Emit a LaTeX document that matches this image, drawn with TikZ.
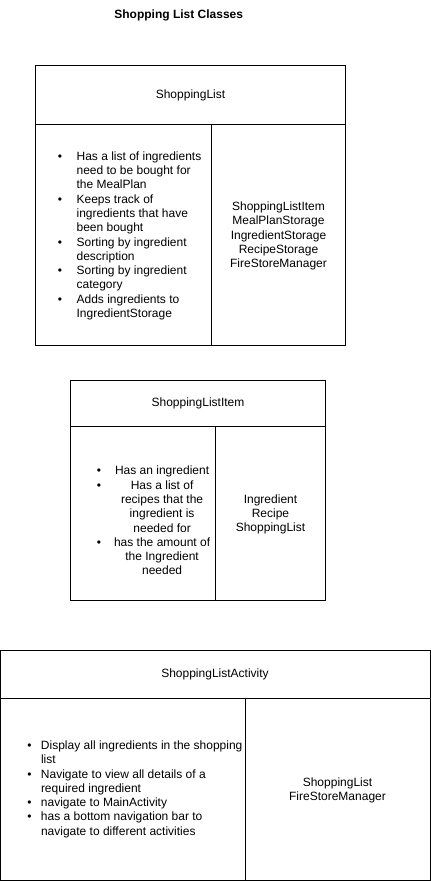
\documentclass[tikz,border=0pt]{standalone}
\usepackage{fontspec}
\setmainfont{Liberation Sans}
\usepackage{array}
\usetikzlibrary{positioning}
\newcommand{\bul}{\textbullet}

\begin{document}
\begin{tikzpicture}[x=1pt,y=1pt]
		\tikzstyle{every node}+=[inner sep=0pt,font=\fontsize{12}{14.3}\selectfont]
		\useasboundingbox (0,0) rectangle (431,-881);
		\draw (178.7,-15) node (title) {\bfseries Shopping List Classes};
		% ShoppingList
		\draw [black] (35.5,-65.5) rectangle (345.5,-345);
		\draw [black] (35.5,-124.5) -- (345.5,-124.5);
		\draw [black] (211.5,-124.5) -- (211.5,-345);
		\draw (190.5,-95) node (slhead) {ShoppingList};
		\draw (57.7,-236) node [anchor=west] (slresp) {\begin{tabular}{@{}l@{\hspace{14.5pt}}l@{}}
			\bul & Has a list of ingredients\\
			& need to be bought for\\
			& the MealPlan\\
			\bul & Keeps track of\\
			& ingredients that have\\
			& been bought\\
			\bul & Sorting by ingredient\\
			& description\\
			\bul & Sorting by ingredient\\
			& category\\
			\bul & Adds ingredients to\\
			& IngredientStorage
		\end{tabular}};
		\draw (278.5,-236) node [align=center] (slcollab) {ShoppingListItem\\MealPlanStorage\\IngredientStorage\\RecipeStorage\\FireStoreManager};
		% ShoppingListItem
		\draw [black] (70.5,-380.5) rectangle (325.5,-600);
		\draw [black] (70.5,-426.5) -- (325.5,-426.5);
		\draw [black] (215.5,-426.5) -- (215.5,-600);
		\draw (198,-403.5) node (slihead) {ShoppingListItem};
		\draw (96.7,-522) node [anchor=west] (sliresp) {\begin{tabular}{@{}l@{\hspace{12pt}}>{\centering\arraybackslash}p{98pt}@{}}
			\bul & Has an ingredient\\
			\bul & Has a list of\\
			& recipes that the\\
			& ingredient is\\
			& needed for\\
			\bul & has the amount of\\
			& the Ingredient\\
			& needed
		\end{tabular}};
		\draw (270.5,-514.5) node [align=center] (slicollab) {Ingredient\\Recipe\\ShoppingList};
		% ShoppingListActivity
		\draw [black] (0.5,-650.5) rectangle (430,-880);
		\draw [black] (0.5,-698) -- (430,-698);
		\draw [black] (245.5,-698) -- (245.5,-880);
		\draw (215,-674) node (slahead) {ShoppingListActivity};
		\draw (27.1,-789.5) node [anchor=west] (slaresp) {\begin{tabular}{@{}l@{\hspace{9.5pt}}l@{}}
			\bul & Display all ingredients in the shopping\\
			& list\\
			\bul & Navigate to view all details of a\\
			& required ingredient\\
			\bul & navigate to MainActivity\\
			\bul & has a bottom navigation bar to\\
			& navigate to different activities
		\end{tabular}};
		\draw (337.5,-790.5) node [align=center] (slacollab) {ShoppingList\\FireStoreManager};
\end{tikzpicture}
\end{document}
